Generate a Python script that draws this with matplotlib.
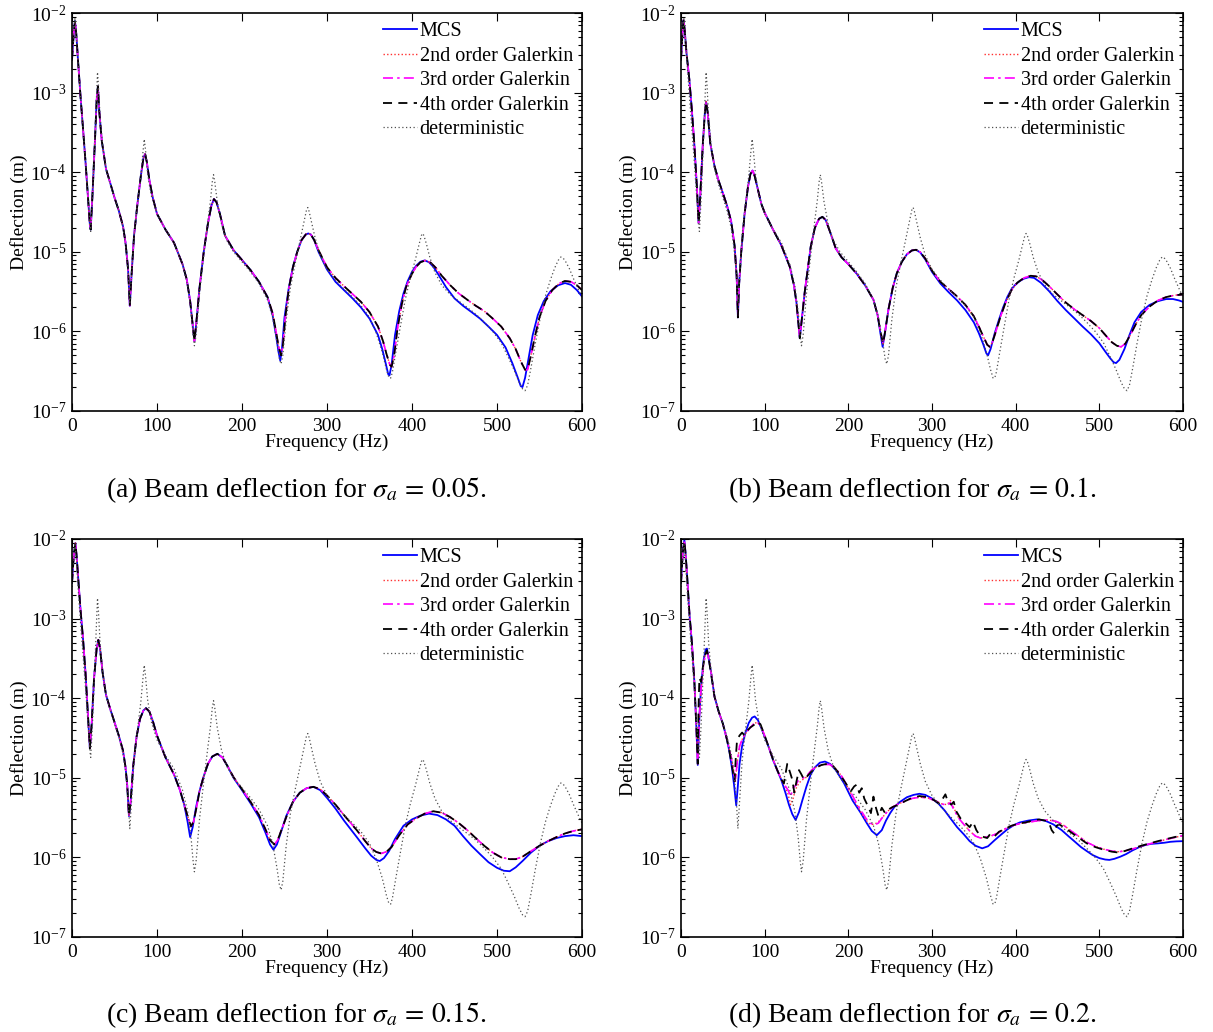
import matplotlib
matplotlib.use('Agg')
import matplotlib.pyplot as plt
from matplotlib.ticker import LogLocator, NullFormatter
from matplotlib.lines import Line2D

plt.rcParams['font.family'] = ['Liberation Serif', 'DejaVu Serif']
plt.rcParams['mathtext.fontset'] = 'stix'

# ---------------- deterministic response (same in all panels) ----------------
det_f = [0, 2, 3.5, 5, 7, 10, 13, 16, 19, 21, 22, 24, 27, 29, 30, 31, 33, 36, 40, 45,
         50, 55, 60, 63, 66, 68, 70, 73, 77, 81, 83.5, 85, 86.5, 89, 93, 100, 110, 120, 130, 136,
         140, 142.5, 144, 146, 150, 155, 160, 163, 165, 166.5, 168, 171, 176, 182, 190, 200, 210, 220, 230, 236,
         241, 244, 246, 248, 252, 257, 263, 269, 273, 276, 277.5, 279, 282, 286, 292, 300, 310, 320, 330, 340,
         350, 358, 365, 370, 373, 375, 377, 381, 386, 392, 398, 404, 408, 411, 412.5, 414, 417, 421, 427, 435,
         445, 455, 465, 475, 485, 495, 505, 513, 520, 526, 530, 533, 536, 540, 545, 551, 557, 563, 568, 572,
         575, 577, 580, 585, 590, 595, 600]
det_y = [2.5e-3, 5.5e-3, 8.5e-3, 5.5e-3, 2.6e-3, 9e-4, 3.5e-4, 1.3e-4, 4.5e-5, 2.2e-5, 1.8e-5, 4.5e-5, 2.8e-4, 1.0e-3, 1.8e-3, 1.3e-3, 5e-4, 2.2e-4, 1.1e-4, 7.0e-5,
         4.8e-5, 3.3e-5, 2.0e-5, 1.2e-5, 5.5e-6, 2.3e-6, 5e-6, 1.6e-5, 4e-5, 9e-5, 1.8e-4, 2.6e-4, 1.9e-4, 9.5e-5, 5.2e-5, 3.0e-5, 1.9e-5, 1.3e-5, 7e-6, 3.8e-6,
         1.8e-6, 9e-7, 6.6e-7, 9e-7, 3e-6, 9e-6, 2.5e-5, 4.5e-5, 7.5e-5, 9.3e-5, 7.5e-5, 4.2e-5, 2.2e-5, 1.4e-5, 1.0e-5, 7.5e-6, 5.6e-6, 4.0e-6, 2.5e-6, 1.5e-6,
         7.5e-7, 4.5e-7, 3.9e-7, 5e-7, 1.4e-6, 3.6e-6, 7.5e-6, 1.5e-5, 2.4e-5, 3.4e-5, 3.6e-5, 3.2e-5, 2.3e-5, 1.5e-5, 9e-6, 6.0e-6, 4.4e-6, 3.4e-6, 2.7e-6, 2.1e-6,
         1.5e-6, 9.5e-7, 5.5e-7, 3.3e-7, 2.6e-7, 2.6e-7, 3.1e-7, 5.5e-7, 1.1e-6, 2.5e-6, 4.7e-6, 8e-6, 1.2e-5, 1.6e-5, 1.7e-5, 1.6e-5, 1.25e-5, 8.5e-6, 5.5e-6, 3.8e-6,
         2.9e-6, 2.4e-6, 2.0e-6, 1.65e-6, 1.3e-6, 1.0e-6, 7.2e-7, 4.8e-7, 3.3e-7, 2.3e-7, 1.9e-7, 1.8e-7, 2.1e-7, 3.5e-7, 7e-7, 1.5e-6, 2.8e-6, 4.5e-6, 6.3e-6, 7.8e-6,
         8.6e-6, 8.5e-6, 7.8e-6, 6.2e-6, 4.6e-6, 3.5e-6, 2.7e-6]

# ---------------- (a) sigma_a = 0.05 ----------------
low_a_f = [0, 2, 3.5, 5, 7, 10, 13, 16, 19, 21, 22, 24, 27, 29, 30.5, 32, 35, 40, 45, 50,
           55, 60, 63, 66, 68, 70, 73, 77, 81, 84, 86, 88, 91, 95, 100, 110, 120, 130, 135, 139,
           142, 144, 146, 150, 155, 160, 164, 167, 170, 174, 180, 190, 200, 210, 220, 230]
low_a_y = [2.6e-3, 5.5e-3, 7.9e-3, 5.5e-3, 2.6e-3, 9e-4, 3.5e-4, 1.3e-4, 4.5e-5, 2.2e-5, 1.9e-5, 5e-5, 2.5e-4, 8e-4, 1.2e-3, 6e-4, 2.5e-4, 1.1e-4, 7.3e-5, 4.8e-5,
           3.3e-5, 2.1e-5, 1.3e-5, 6e-6, 2.1e-6, 5e-6, 1.6e-5, 4e-5, 9e-5, 1.5e-4, 1.7e-4, 1.35e-4, 8e-5, 4.8e-5, 3.0e-5, 1.9e-5, 1.3e-5, 7e-6, 4.5e-6, 2.4e-6,
           1.2e-6, 7.5e-7, 1.2e-6, 3.5e-6, 1.0e-5, 2.3e-5, 3.8e-5, 4.6e-5, 4.2e-5, 3.0e-5, 1.6e-5, 1.05e-5, 7.9e-6, 5.9e-6, 4.2e-6, 2.7e-6]
mcs_a_f = low_a_f + [236, 240, 243, 245, 247, 250, 255, 260, 265, 270, 275, 278, 281, 285, 290, 300, 310, 320, 330, 340,
                     350, 360, 365, 369, 372, 373.5, 376, 380, 385, 390, 395, 400, 405, 410, 415, 420, 425, 430, 440, 450,
                     460, 470, 480, 490, 500, 510, 518, 524, 528, 530, 533, 537, 542, 548, 555, 563, 572, 580, 587, 594, 600]
mcs_a_y = low_a_y + [1.6e-6, 9e-7, 5.5e-7, 4.3e-7, 6e-7, 1.5e-6, 3.5e-6, 6.5e-6, 1.0e-5, 1.4e-5, 1.65e-5, 1.7e-5, 1.65e-5, 1.4e-5, 1.0e-5, 6.0e-6, 4.2e-6, 3.3e-6, 2.6e-6, 2.0e-6,
                     1.45e-6, 9e-7, 6e-7, 4e-7, 2.9e-7, 2.8e-7, 3.8e-7, 9e-7, 1.8e-6, 3.0e-6, 4.3e-6, 5.6e-6, 6.7e-6, 7.5e-6, 7.8e-6, 7.4e-6, 6.5e-6, 5.4e-6, 3.6e-6, 2.6e-6,
                     2.1e-6, 1.75e-6, 1.45e-6, 1.15e-6, 9e-7, 6.3e-7, 4e-7, 2.7e-7, 2.05e-7, 2.0e-7, 2.6e-7, 4.5e-7, 9e-7, 1.6e-6, 2.4e-6, 3.2e-6, 3.8e-6, 4.05e-6, 3.85e-6, 3.3e-6, 2.75e-6]
gal_a_f = low_a_f + [236, 240, 243, 246, 248, 251, 255, 260, 265, 270, 275, 278, 281, 285, 290, 300, 310, 320, 330, 340,
                     350, 360, 366, 370, 374, 376, 379, 383, 388, 393, 400, 405, 410, 416, 422, 428, 435, 445, 455, 465,
                     475, 485, 495, 505, 515, 522, 528, 533, 536, 540, 545, 550, 557, 565, 573, 580, 587, 594, 600]
gal_a_y = low_a_y + [1.7e-6, 1.0e-6, 6.5e-7, 5.0e-7, 6.5e-7, 1.5e-6, 3.4e-6, 6.5e-6, 1.0e-5, 1.4e-5, 1.65e-5, 1.7e-5, 1.65e-5, 1.4e-5, 1.05e-5, 6.4e-6, 4.7e-6, 3.7e-6, 2.95e-6, 2.35e-6,
                     1.75e-6, 1.15e-6, 7.5e-7, 5.2e-7, 3.8e-7, 3.6e-7, 5e-7, 1.1e-6, 2.2e-6, 3.6e-6, 5.3e-6, 6.5e-6, 7.4e-6, 7.8e-6, 7.3e-6, 6.3e-6, 5.0e-6, 3.8e-6, 3.0e-6, 2.5e-6,
                     2.1e-6, 1.8e-6, 1.45e-6, 1.15e-6, 8.2e-7, 6e-7, 4.2e-7, 3.3e-7, 3.3e-7, 5e-7, 9e-7, 1.5e-6, 2.4e-6, 3.3e-6, 4.0e-6, 4.3e-6, 4.2e-6, 3.8e-6, 3.3e-6]

# ---------------- (b) sigma_a = 0.1 ----------------
low_b_f = [0, 1.5, 3, 4.5, 6.5, 10, 13, 16, 19, 21, 23, 26, 28.5, 30, 32, 35, 40, 45, 50, 55,
           60, 64, 66.5, 68, 69.5, 72, 76, 80, 83, 85.5, 88, 92, 96, 100, 110, 120, 130, 135, 138, 140.5,
           142, 144, 148, 155, 160, 165, 169, 173, 178, 185, 192, 200, 210, 220, 230]
low_b_y = [2.6e-3, 5e-3, 8.2e-3, 6e-3, 3.2e-3, 1.45e-3, 6e-4, 2.2e-4, 6.5e-5, 2.3e-5, 5e-5, 2.2e-4, 5.5e-4, 7.7e-4, 5.5e-4, 2.3e-4, 1.2e-4, 7.8e-5, 5.5e-5, 3.8e-5,
           2.4e-5, 1.2e-5, 5e-6, 1.5e-6, 4e-6, 1.0e-5, 3e-5, 6.5e-5, 9.5e-5, 1.05e-4, 9e-5, 6e-5, 4e-5, 3.1e-5, 1.9e-5, 1.2e-5, 6.5e-6, 3.8e-6, 2.3e-6, 1.2e-6,
           8.2e-7, 1.3e-6, 3.2e-6, 1.15e-5, 2.0e-5, 2.6e-5, 2.75e-5, 2.5e-5, 1.8e-5, 1.1e-5, 8.5e-6, 7.0e-6, 5.3e-6, 3.8e-6, 2.5e-6]
mcs_b_f = low_b_f + [235, 238, 241, 244, 248, 253, 258, 264, 270, 276, 281, 286, 292, 300, 310, 320, 330, 340, 350, 356,
                     361, 365, 367, 370, 375, 380, 385, 390, 395, 400, 405, 410, 416, 422, 430, 440, 450, 460, 470, 480,
                     490, 500, 507, 513, 517, 520, 524, 530, 536, 542, 550, 560, 570, 580, 588, 595, 600]
mcs_b_y = low_b_y + [1.6e-6, 1.0e-6, 6.4e-7, 1.0e-6, 1.9e-6, 3.5e-6, 5.4e-6, 7.5e-6, 9.3e-6, 1.04e-5, 1.06e-5, 9.8e-6, 8.0e-6, 5.6e-6, 4.0e-6, 3.1e-6, 2.45e-6, 1.85e-6, 1.3e-6, 9.5e-7,
                     7e-7, 5.3e-7, 5.0e-7, 6e-7, 9.5e-7, 1.4e-6, 2.0e-6, 2.7e-6, 3.4e-6, 3.9e-6, 4.3e-6, 4.6e-6, 4.8e-6, 4.7e-6, 4.1e-6, 3.2e-6, 2.4e-6, 1.85e-6, 1.46e-6, 1.15e-6,
                     9.2e-7, 7.1e-7, 5.6e-7, 4.6e-7, 4.1e-7, 4.0e-7, 4.4e-7, 6e-7, 9e-7, 1.3e-6, 1.75e-6, 2.15e-6, 2.4e-6, 2.55e-6, 2.55e-6, 2.45e-6, 2.35e-6]
gal_b_f = low_b_f + [235, 238, 241.5, 244, 248, 253, 258, 264, 270, 276, 281, 286, 292, 300, 310, 320, 330, 340, 350, 356,
                     361, 366, 369, 372, 377, 382, 388, 395, 402, 410, 418, 425, 432, 440, 450, 460, 470, 480, 490, 500,
                     508, 515, 521, 526, 531, 537, 543, 550, 560, 570, 580, 590, 600]
gal_b_y = low_b_y + [1.6e-6, 1.05e-6, 7e-7, 1.0e-6, 1.9e-6, 3.5e-6, 5.4e-6, 7.5e-6, 9.3e-6, 1.04e-5, 1.06e-5, 9.9e-6, 8.2e-6, 5.8e-6, 4.2e-6, 3.4e-6, 2.75e-6, 2.15e-6, 1.55e-6, 1.15e-6,
                     8.8e-7, 6.8e-7, 6.4e-7, 7.2e-7, 1.05e-6, 1.55e-6, 2.3e-6, 3.3e-6, 4.1e-6, 4.7e-6, 5.0e-6, 4.9e-6, 4.4e-6, 3.7e-6, 2.9e-6, 2.3e-6, 1.9e-6, 1.6e-6, 1.35e-6, 1.1e-6,
                     8.8e-7, 7.3e-7, 6.6e-7, 6.4e-7, 7e-7, 9e-7, 1.2e-6, 1.6e-6, 2.05e-6, 2.45e-6, 2.7e-6, 2.85e-6, 2.9e-6]

# ---------------- (c) sigma_a = 0.15 ----------------
low_c_f = [0, 2, 4, 5.5, 7.5, 10, 13, 16, 19, 21, 23, 26, 29, 31, 33, 36, 40, 45, 50, 55,
           60, 63, 65, 67, 69, 72, 76, 80, 84, 87, 91, 95, 100, 110, 120, 127, 132]
low_c_y = [2.8e-3, 6e-3, 8.9e-3, 6e-3, 3e-3, 1.3e-3, 5.5e-4, 2.0e-4, 5.5e-5, 2.35e-5, 4.5e-5, 1.8e-4, 4.2e-4, 5.4e-4, 4.2e-4, 2.1e-4, 1.1e-4, 7.3e-5, 5.0e-5, 3.4e-5,
           2.2e-5, 1.35e-5, 8e-6, 3.3e-6, 5e-6, 1.4e-5, 3.3e-5, 5.5e-5, 7e-5, 7.5e-5, 6.8e-5, 5.2e-5, 3.4e-5, 1.8e-5, 1.1e-5, 7e-6, 4.6e-6]
mcs_c_f = low_c_f + [136, 139, 142, 146, 150, 155, 160, 165, 171, 177, 183, 190, 200, 210, 220, 228, 233, 237, 241, 246,
                     252, 260, 268, 276, 284, 292, 300, 310, 320, 335, 345, 352, 358, 362, 367, 373, 380, 390, 400, 410,
                     420, 430, 440, 450, 460, 470, 480, 490, 500, 508, 515, 522, 530, 540, 550, 560, 570, 580, 590, 600]
mcs_c_y = low_c_y + [2.8e-6, 1.8e-6, 2.4e-6, 4.3e-6, 6.8e-6, 1.05e-5, 1.5e-5, 1.85e-5, 2.0e-5, 1.8e-5, 1.4e-5, 1.0e-5, 7e-6, 4.8e-6, 3.2e-6, 2.0e-6, 1.45e-6, 1.25e-6, 1.45e-6, 2.1e-6,
                     3.3e-6, 5.0e-6, 6.5e-6, 7.4e-6, 7.7e-6, 7.0e-6, 5.6e-6, 4.1e-6, 2.9e-6, 1.8e-6, 1.3e-6, 1.05e-6, 9.3e-7, 9.0e-7, 9.8e-7, 1.2e-6, 1.7e-6, 2.5e-6, 3.0e-6, 3.35e-6,
                     3.55e-6, 3.4e-6, 3.0e-6, 2.5e-6, 1.85e-6, 1.4e-6, 1.1e-6, 8.7e-7, 7.4e-7, 6.8e-7, 6.7e-7, 7.5e-7, 9.0e-7, 1.15e-6, 1.4e-6, 1.6e-6, 1.75e-6, 1.85e-6, 1.9e-6, 1.85e-6]
gal_c_f = low_c_f + [136, 140, 143, 147, 150, 155, 160, 165, 171, 177, 183, 190, 200, 210, 220, 228, 233, 238, 242, 247,
                     253, 260, 268, 276, 284, 292, 300, 310, 320, 335, 345, 352, 358, 364, 370, 376, 385, 395, 405, 415,
                     425, 435, 445, 455, 465, 475, 485, 495, 505, 515, 522, 530, 540, 550, 560, 570, 580, 590, 600]
gal_c_y = low_c_y + [3.3e-6, 2.45e-6, 2.8e-6, 4.5e-6, 6.8e-6, 1.05e-5, 1.5e-5, 1.85e-5, 2.0e-5, 1.8e-5, 1.4e-5, 1.02e-5, 7.2e-6, 5.0e-6, 3.4e-6, 2.2e-6, 1.65e-6, 1.45e-6, 1.65e-6, 2.3e-6,
                     3.4e-6, 5.0e-6, 6.5e-6, 7.4e-6, 7.7e-6, 7.2e-6, 6.0e-6, 4.6e-6, 3.4e-6, 2.2e-6, 1.6e-6, 1.3e-6, 1.17e-6, 1.12e-6, 1.18e-6, 1.35e-6, 1.9e-6, 2.6e-6, 3.1e-6, 3.55e-6,
                     3.8e-6, 3.65e-6, 3.2e-6, 2.7e-6, 2.2e-6, 1.75e-6, 1.4e-6, 1.15e-6, 1.0e-6, 9.5e-7, 9.5e-7, 1.02e-6, 1.2e-6, 1.4e-6, 1.6e-6, 1.8e-6, 2.0e-6, 2.15e-6, 2.25e-6]

# ---------------- (d) sigma_a = 0.2 ----------------
mcs_d_f = [0, 2, 4, 5.5, 7.5, 10, 13, 16, 18.5, 20, 22, 24, 27, 29.5, 31, 33, 36, 40, 45, 50,
           55, 58, 61, 63.5, 66, 68, 70, 73, 77, 81, 85, 88, 92, 96, 100, 105, 110, 115, 120, 125,
           129, 133, 137, 141, 145, 150, 155, 160, 166, 172, 178, 185, 195, 205, 215, 222, 228, 234, 240, 245,
           250, 255, 262, 270, 278, 285, 292, 300, 308, 315, 322, 330, 338, 345, 352, 360, 367, 375, 383, 390,
           398, 405, 415, 425, 435, 445, 455, 463, 470, 478, 485, 492, 500, 507, 512, 518, 525, 532, 540, 548,
           555, 562, 570, 578, 585, 592, 600]
mcs_d_y = [2.8e-3, 6.5e-3, 9.8e-3, 6.5e-3, 3.2e-3, 1.17e-3, 5e-4, 1.6e-4, 4e-5, 1.45e-5, 6e-5, 1.4e-4, 3e-4, 4.1e-4, 4.2e-4, 3.2e-4, 2.1e-4, 1.05e-4, 6.8e-5, 4.8e-5,
           3.0e-5, 2.1e-5, 1.3e-5, 8e-6, 4.5e-6, 8e-6, 1.5e-5, 2.5e-5, 3.7e-5, 4.9e-5, 5.7e-5, 5.9e-5, 5.3e-5, 4.2e-5, 3.3e-5, 2.4e-5, 1.67e-5, 1.25e-5, 9.3e-6, 6.4e-6,
           4.6e-6, 3.5e-6, 2.95e-6, 3.7e-6, 5.2e-6, 7.8e-6, 1.1e-5, 1.35e-5, 1.55e-5, 1.6e-5, 1.5e-5, 1.25e-5, 8.5e-6, 5.2e-6, 3.6e-6, 2.7e-6, 2.15e-6, 1.9e-6, 2.2e-6, 2.9e-6,
           3.6e-6, 4.3e-6, 5.0e-6, 5.7e-6, 6.1e-6, 6.3e-6, 6.1e-6, 5.5e-6, 4.7e-6, 3.9e-6, 3.1e-6, 2.4e-6, 1.95e-6, 1.6e-6, 1.4e-6, 1.3e-6, 1.38e-6, 1.65e-6, 1.95e-6, 2.25e-6,
           2.55e-6, 2.75e-6, 2.9e-6, 3.0e-6, 2.9e-6, 2.6e-6, 2.2e-6, 1.85e-6, 1.6e-6, 1.35e-6, 1.2e-6, 1.07e-6, 9.8e-7, 9.4e-7, 9.3e-7, 9.6e-7, 1.02e-6, 1.1e-6, 1.23e-6, 1.35e-6,
           1.43e-6, 1.48e-6, 1.5e-6, 1.53e-6, 1.57e-6, 1.59e-6, 1.6e-6]
g2_d_f = [0, 2, 4, 5.5, 7.5, 10, 13, 16, 18.5, 20, 22, 24, 27, 29.5, 31.5, 34, 37, 40, 45, 50,
          55, 59, 62, 65, 67, 70, 74, 78, 83, 88, 92, 96, 100, 105, 110, 115, 120, 125, 128, 131,
          134, 137, 141, 145, 150, 156, 163, 170, 178, 185, 192, 200, 208, 215, 221, 226, 231, 236, 241, 247,
          253, 260, 268, 276, 285, 295, 305, 312, 318, 322, 326, 332, 338, 345, 352, 358, 364, 370, 378, 388,
          398, 408, 418, 428, 438, 448, 456, 465, 475, 485, 495, 505, 515, 523, 530, 540, 550, 560, 570, 580,
          590, 600]
g2_d_y = [2.8e-3, 6.5e-3, 9.3e-3, 6.5e-3, 3.2e-3, 1.2e-3, 5e-4, 1.6e-4, 4e-5, 1.5e-5, 6e-5, 1.3e-4, 2.7e-4, 3.7e-4, 3.8e-4, 2.8e-4, 1.8e-4, 1.05e-4, 6.8e-5, 4.8e-5,
          3.0e-5, 2.0e-5, 1.4e-5, 9e-6, 1.5e-5, 2.5e-5, 3.2e-5, 3.7e-5, 4.3e-5, 4.9e-5, 4.9e-5, 4.3e-5, 3.4e-5, 2.4e-5, 1.7e-5, 1.25e-5, 9.5e-6, 7.5e-6, 6.2e-6, 4.6e-6,
          5.5e-6, 7.2e-6, 8.6e-6, 9.4e-6, 1.02e-5, 1.25e-5, 1.4e-5, 1.47e-5, 1.47e-5, 1.3e-5, 1.05e-5, 7.3e-6, 5.0e-6, 3.7e-6, 2.95e-6, 2.6e-6, 2.6e-6, 2.8e-6, 3.2e-6, 3.8e-6,
          4.3e-6, 4.7e-6, 5.1e-6, 5.5e-6, 5.7e-6, 5.6e-6, 5.1e-6, 4.7e-6, 4.6e-6, 5.2e-6, 4.2e-6, 3.1e-6, 2.6e-6, 2.15e-6, 1.85e-6, 1.75e-6, 1.8e-6, 1.85e-6, 2.0e-6, 2.3e-6,
          2.55e-6, 2.7e-6, 2.8e-6, 2.9e-6, 2.95e-6, 2.85e-6, 2.6e-6, 2.2e-6, 1.85e-6, 1.55e-6, 1.38e-6, 1.27e-6, 1.2e-6, 1.18e-6, 1.2e-6, 1.28e-6, 1.38e-6, 1.48e-6, 1.58e-6, 1.68e-6,
          1.78e-6, 1.88e-6]
g3_d_f = [0, 2, 4, 5.5, 7.5, 10, 13, 16, 18.5, 20, 22, 24, 27, 29.5, 31.5, 34, 37, 40, 45, 50,
          55, 59, 62, 65, 67, 70, 74, 78, 83, 88, 92, 96, 100, 105, 110, 115, 120, 125, 128, 131,
          134, 137, 140, 145, 150, 156, 163, 170, 178, 185, 192, 200, 208, 215, 221, 226, 231, 236, 241, 247,
          253, 260, 268, 276, 285, 295, 305, 312, 318, 322, 326, 332, 338, 345, 352, 358, 364, 370, 378, 388,
          398, 408, 418, 428, 438, 448, 456, 465, 475, 485, 495, 505, 515, 523, 530, 540, 550, 560, 570, 580,
          590, 600]
g3_d_y = [2.8e-3, 6.5e-3, 9.3e-3, 6.5e-3, 3.2e-3, 1.2e-3, 5e-4, 1.6e-4, 4e-5, 1.5e-5, 6e-5, 1.3e-4, 2.7e-4, 3.7e-4, 3.8e-4, 2.8e-4, 1.8e-4, 1.05e-4, 6.8e-5, 4.8e-5,
          3.0e-5, 2.0e-5, 1.4e-5, 9e-6, 1.5e-5, 2.5e-5, 3.2e-5, 3.7e-5, 4.3e-5, 4.9e-5, 4.9e-5, 4.3e-5, 3.4e-5, 2.4e-5, 1.7e-5, 1.25e-5, 9.5e-6, 7.8e-6, 7e-6, 5.8e-6,
          7.5e-6, 8e-6, 9.2e-6, 9.8e-6, 1.05e-5, 1.25e-5, 1.4e-5, 1.47e-5, 1.47e-5, 1.3e-5, 1.05e-5, 7.5e-6, 5.2e-6, 3.9e-6, 3.1e-6, 2.7e-6, 2.55e-6, 2.7e-6, 3.2e-6, 3.8e-6,
          4.3e-6, 4.7e-6, 5.1e-6, 5.5e-6, 5.7e-6, 5.6e-6, 5.1e-6, 4.7e-6, 4.5e-6, 4.9e-6, 4.0e-6, 3.1e-6, 2.6e-6, 2.15e-6, 1.85e-6, 1.75e-6, 1.8e-6, 1.85e-6, 2.0e-6, 2.3e-6,
          2.55e-6, 2.7e-6, 2.8e-6, 2.9e-6, 2.95e-6, 2.85e-6, 2.6e-6, 2.2e-6, 1.85e-6, 1.55e-6, 1.38e-6, 1.27e-6, 1.2e-6, 1.18e-6, 1.2e-6, 1.28e-6, 1.38e-6, 1.48e-6, 1.58e-6, 1.68e-6,
          1.78e-6, 1.88e-6]
g4_d_f = [0, 2, 4, 5.5, 7.5, 10, 13, 16, 18.5, 20, 21, 22, 24, 26, 28.5, 31, 33, 36, 40, 45,
          50, 55, 58, 61, 64, 65.5, 67, 70, 73, 76, 79, 83, 87, 91, 95, 100, 105, 110, 115, 120,
          123, 127, 130, 133, 135.5, 138, 141, 144, 147, 151, 156, 162, 168, 175, 182, 190, 197, 203, 207, 210,
          213, 216, 219, 223, 227, 230, 233, 236, 240, 244, 248, 253, 260, 268, 276, 285, 295, 303, 309, 313,
          316, 319, 323, 326, 329, 334, 340, 345, 349, 353, 357, 362, 366, 370, 375, 380, 388, 395, 403, 412,
          420, 428, 435, 440, 443, 446, 449, 452, 460, 468, 476, 485, 495, 505, 515, 523, 530, 540, 550, 560,
          570, 580, 590, 600]
g4_d_y = [2.8e-3, 6.5e-3, 9.5e-3, 6.5e-3, 3.2e-3, 1.2e-3, 5e-4, 1.6e-4, 4e-5, 1.5e-5, 8e-5, 1.8e-4, 1.6e-4, 2.4e-4, 3.4e-4, 4.0e-4, 3.2e-4, 2.0e-4, 1.05e-4, 6.8e-5,
          4.8e-5, 3.0e-5, 2.1e-5, 1.4e-5, 9e-6, 1.8e-5, 3.0e-5, 3.4e-5, 3.7e-5, 3.4e-5, 3.9e-5, 4.3e-5, 4.6e-5, 5.1e-5, 4.7e-5, 3.4e-5, 2.4e-5, 1.7e-5, 1.25e-5, 9.5e-6,
          8.5e-6, 1.5e-5, 1.2e-5, 9.5e-6, 6.5e-6, 9e-6, 1.25e-5, 1.1e-5, 9.5e-6, 1.05e-5, 1.2e-5, 1.35e-5, 1.45e-5, 1.5e-5, 1.4e-5, 1.1e-5, 8.5e-6, 6.8e-6, 7.8e-6, 8.2e-6,
          6.5e-6, 7.4e-6, 5.5e-6, 4.5e-6, 3.6e-6, 5.8e-6, 4.2e-6, 3.3e-6, 4.2e-6, 3.6e-6, 4.0e-6, 4.3e-6, 4.6e-6, 5.1e-6, 5.6e-6, 5.9e-6, 5.7e-6, 5.2e-6, 4.7e-6, 5.5e-6,
          6.2e-6, 5.0e-6, 4.6e-6, 5.0e-6, 3.8e-6, 3.1e-6, 2.7e-6, 2.4e-6, 2.8e-6, 2.2e-6, 1.9e-6, 1.8e-6, 1.75e-6, 2.0e-6, 1.85e-6, 2.1e-6, 2.3e-6, 2.5e-6, 2.65e-6, 2.75e-6,
          2.9e-6, 3.0e-6, 2.9e-6, 2.7e-6, 2.2e-6, 2.0e-6, 2.5e-6, 2.6e-6, 2.3e-6, 2.0e-6, 1.75e-6, 1.5e-6, 1.35e-6, 1.25e-6, 1.18e-6, 1.15e-6, 1.2e-6, 1.3e-6, 1.4e-6, 1.5e-6,
          1.6e-6, 1.7e-6, 1.8e-6, 1.9e-6]

labels = ['MCS', '2nd order Galerkin', '3rd order Galerkin', '4th order Galerkin', 'deterministic']
captions = [r'(a) Beam deflection for $\sigma_a\,=\,0.05$.',
            r'(b) Beam deflection for $\sigma_a\,=\,0.1$.',
            r'(c) Beam deflection for $\sigma_a\,=\,0.15$.',
            r'(d) Beam deflection for $\sigma_a\,=\,0.2$.']

W, H = 1213, 1032
fig = plt.figure(figsize=(W / 100, H / 100), dpi=100)


def px_axes(x0, y0, x1, y1):
    return fig.add_axes([x0 / W, 1 - y1 / H, (x1 - x0) / W, (y1 - y0) / H])


def draw(ax, mcs, g2, g3, g4):
    ax.plot(mcs[0], mcs[1], color='#0000ff', lw=1.3, ls='-')
    ax.plot(g2[0], g2[1], color='#ff3030', lw=1.0, ls=(0, (1, 1.6)))
    ax.plot(g3[0], g3[1], color='#ff00ff', lw=1.2, ls=(0, (6, 2.5, 1.5, 2.5)))
    ax.plot(g4[0], g4[1], color='black', lw=1.3, ls=(0, (5, 3.5)))
    ax.plot(det_f, det_y, color='#505050', lw=0.9, ls=(0, (1, 2)))
    ax.set_yscale('log')
    ax.set_xlim(0, 600)
    ax.set_ylim(1e-7, 1e-2)
    ax.set_xticks([0, 100, 200, 300, 400, 500, 600])
    ax.set_yticks([1e-7, 1e-6, 1e-5, 1e-4, 1e-3, 1e-2])
    ax.yaxis.set_minor_locator(LogLocator(base=10, subs=range(2, 10), numticks=20))
    ax.yaxis.set_minor_formatter(NullFormatter())
    ax.tick_params(which='both', direction='in', top=True, right=True, labelsize=14, width=0.8)
    ax.tick_params(which='major', length=6)
    ax.tick_params(which='minor', length=3)
    ax.tick_params(axis='x', pad=5)
    ax.tick_params(axis='y', pad=4)
    for sp in ax.spines.values():
        sp.set_linewidth(1.2)
    ax.set_xlabel('Frequency (Hz)', fontsize=14, labelpad=-1)
    ax.set_ylabel('Deflection (m)', fontsize=14, labelpad=2)
    handles = [Line2D([], [], color='#0000ff', lw=1.3, ls='-'),
               Line2D([], [], color='#ff3030', lw=1.0, ls=(0, (1, 1.6))),
               Line2D([], [], color='#ff00ff', lw=1.2, ls=(0, (6, 2.5, 1.5, 2.5))),
               Line2D([], [], color='black', lw=1.3, ls=(0, (5, 3.5))),
               Line2D([], [], color='#505050', lw=0.9, ls=(0, (1, 2)))]
    ax.legend(handles, labels, loc='upper right', bbox_to_anchor=(1.0, 1.0), frameon=False,
              fontsize=14.5, handlelength=1.65, handletextpad=0.15, labelspacing=0.27,
              borderaxespad=0.2, borderpad=0.25)


ax_a = px_axes(72, 13, 582, 411)
draw(ax_a, (mcs_a_f, mcs_a_y), (gal_a_f, gal_a_y), (gal_a_f, gal_a_y), (gal_a_f, gal_a_y))
ax_b = px_axes(681, 13, 1183, 411)
draw(ax_b, (mcs_b_f, mcs_b_y), (gal_b_f, gal_b_y), (gal_b_f, gal_b_y), (gal_b_f, gal_b_y))
ax_c = px_axes(72, 539, 582, 937)
draw(ax_c, (mcs_c_f, mcs_c_y), (gal_c_f, gal_c_y), (gal_c_f, gal_c_y), (gal_c_f, gal_c_y))
ax_d = px_axes(681, 539, 1183, 937)
draw(ax_d, (mcs_d_f, mcs_d_y), (g2_d_f, g2_d_y), (g3_d_f, g3_d_y), (g4_d_f, g4_d_y))

cap_pos = [(296, 490), (912, 490), (296, 1015), (912, 1015)]
for (cx, cy), cap in zip(cap_pos, captions):
    fig.text(cx / W, 1 - cy / H, cap, fontsize=20, ha='center', va='center')

fig.savefig('out.png', dpi=100)
